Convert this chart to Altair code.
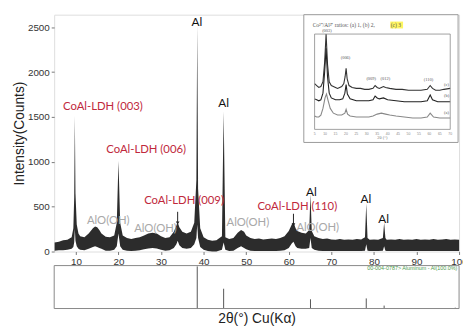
import altair as alt
import pandas as pd

# ---------------- main XRD pattern (noise envelope) ----------------
two_theta = [5, 6, 7, 8, 9, 9.4, 9.6, 9.75, 9.9, 10.2, 10.6, 11, 12, 13, 14, 14.5, 15, 15.5, 16,
             17, 18, 19, 19.6, 20.0, 20.4, 21, 22, 23, 24, 25, 26, 27, 28, 29, 30, 31, 32, 33,
             33.6, 33.9, 34.3, 35, 36, 37, 37.8, 38.3, 38.5, 38.7, 39.2, 40, 41, 42, 43, 44.3,
             44.7, 45.1, 46, 47, 48, 48.8, 49.5, 50, 51, 52, 53, 54, 55, 56, 57, 58, 59, 60,
             60.7, 61.1, 61.6, 62, 63, 64, 64.8, 65.1, 65.4, 66, 67, 68, 69, 70, 71, 72, 73,
             74, 75, 76, 77, 77.9, 78.2, 78.5, 79, 80, 81, 82.1, 82.4, 82.7, 83, 84, 85, 86,
             87, 88, 89, 90, 91, 92, 93, 94, 95, 96, 97, 98, 99, 100]
band_low = [10, 15, 15, 20, 30, 50, 100, 250, 120, 60, 30, 20, 15, 30, 50, 60, 50, 40, 30,
            10, 10, 20, 60, 200, 60, 20, 10, 5, 10, 15, 25, 35, 40, 35, 20, 10, 15, 40,
            80, 120, 70, 40, 30, 40, 80, 150, 300, 150, 50, 20, 5, 0, 0, 20,
            100, 20, 5, 10, 40, 60, 40, 25, 10, 5, 5, 5, 5, 5, 5, 10, 15, 40,
            90, 110, 60, 40, 30, 30, 40, 150, 40, 20, 10, 5, 5, 5, 5, 5, 5,
            5, 5, 5, 5, 10, 80, 10, 5, 5, 5, 10, 60, 10, 5, 5, 5, 5,
            5, 5, 5, 5, 5, 5, 5, 5, 5, 5, 5, 5, 5, 5]
band_high = [100, 110, 125, 130, 160, 260, 600, 1510, 650, 300, 200, 170, 160, 200, 260, 280, 270, 240, 200,
             165, 160, 180, 320, 1010, 320, 180, 150, 140, 150, 160, 180, 200, 210, 200, 170, 150, 160, 220,
             290, 330, 270, 220, 200, 220, 320, 800, 2520, 700, 260, 160, 130, 120, 125, 170,
             1560, 160, 140, 150, 210, 240, 220, 180, 150, 140, 145, 135, 140, 145, 140, 150, 170, 230,
             300, 330, 260, 230, 210, 200, 240, 640, 230, 170, 150, 140, 145, 135, 130, 140, 130,
             135, 130, 140, 135, 160, 535, 150, 130, 135, 130, 150, 320, 150, 130, 135, 130, 140,
             130, 135, 130, 140, 130, 135, 130, 140, 130, 135, 140, 130, 135, 130]

# annotations
ldh_text = ["CoAl-LDH (003)", "CoAl-LDH (006)", "CoAl-LDH (009)", "CoAl-LDH (110)"]
ldh_x = [16.35, 26.5, 35.4, 62.0]
ldh_y = [1614, 1132, 563, 498]

alooh_text = ["AlO(OH)", "AlO(OH)", "AlO(OH)", "AlO(OH)"]
alooh_x = [17.6, 28.7, 50.4, 66.8]
alooh_y = [345, 246, 323, 257]

al_text = ["Al", "Al", "Al", "Al", "Al"]
al_x = [38.4, 44.7, 65.3, 78.1, 82.3]
al_y = [2555, 1660, 662, 585, 366]

arrow_x = [33.9, 61.1]
arrow_top = [443, 421]
arrow_tip = [318, 298]

# reference pattern (PDF 00-004-0787 Aluminum)
ref_pos = [38.5, 44.7, 65.1, 78.2, 82.4, 99.1]
ref_rel = [100, 47, 22, 24, 7, 2]
ref_label = ["00-004-0787> Aluminum - Al(100.0%)"]

# ---------------- inset: Co/Al ratio patterns ----------------
inset_c_x = [5, 6, 7, 8, 9, 9.8, 10.5, 11.2, 12, 13, 14, 15, 16, 17, 18, 19, 19.6, 20.1, 20.6, 21.5,
             23, 25, 27, 29, 31, 33, 34, 35, 36, 37, 38, 39, 41, 44, 47, 50, 53, 56, 59, 60.4,
             61.5, 63, 65, 67, 70]
inset_c_y = [48, 46, 44, 45, 50, 70, 100, 68, 50, 46, 45, 44, 43, 44, 45, 48, 55, 64, 53, 46,
             44, 43, 43, 42, 42, 43, 46, 44, 43, 44, 45, 44, 43, 42, 42, 41, 41, 41, 42, 46,
             43, 41, 41, 42, 43]
inset_b_x = [5, 6, 7, 8, 9, 9.8, 10.5, 11.2, 12, 13, 15, 17, 18.5, 19.5, 20.1, 20.7, 22, 25, 28,
             31, 33, 34, 35, 36, 38, 40, 44, 48, 52, 56, 59, 60.4, 61.5, 64, 67, 70]
inset_b_y = [32, 31, 30, 31, 38, 60, 85, 55, 38, 33, 31, 31, 32, 38, 47, 37, 32, 30, 30,
             30, 31, 35, 33, 32, 33, 31, 30, 29, 29, 29, 30, 36, 31, 29, 29, 29]
inset_a_x = [5, 6, 7, 8, 9, 10, 10.7, 11.5, 12.5, 14, 16, 18, 19.5, 20.1, 20.8, 22, 25, 28, 31,
             33, 35, 37, 39, 41, 44, 48, 52, 56, 59, 60.4, 62, 65, 70]
inset_a_y = [14, 13, 13, 15, 22, 33, 37, 30, 22, 17, 15, 15, 17, 21, 16, 14, 13, 13, 13,
             14, 16, 17, 16, 15, 14, 13, 12, 12, 13, 17, 13, 12, 12]

inset_peak_text = ["(003)", "(006)", "(009)", "(012)", "(110)"]
inset_peak_x = [10.9, 19.8, 32.1, 38.9, 59.6]
inset_peak_y = [101, 73, 51, 51, 50]

inset_series_text = ["(c)", "(b)", "(a)"]
inset_series_x = [67.0, 67.0, 67.0]
inset_series_y = [47, 35, 17]

inset_ticks = [5, 10, 15, 20, 25, 30, 35, 40, 45, 50, 55, 60, 65, 70]

# ---------------- geometry ----------------
W, H = 412, 241
XDOM = [4.9, 100]
YDOM = [0, 2640]

xs = alt.Scale(domain=XDOM, nice=False, zero=False)
ys = alt.Scale(domain=YDOM, nice=False, zero=False)

FONT = "Liberation Sans"
ANN = "Lato"

xaxis = alt.Axis(values=list(range(10, 101, 10)), title="2θ(°) Cu(Kα)", grid=False, domain=False,
                 format="d", labelFont=FONT, labelFontSize=10, labelColor="#333", labelFlush=False,
                 labelOverlap=False, labelPadding=2, tickSize=3, tickColor="#777",
                 titleFont=FONT, titleFontSize=14, titleFontWeight="normal", titleColor="#222",
                 titlePadding=46)
yaxis = alt.Axis(values=list(range(0, 2501, 500)), title="Intensity(Counts)", grid=False,
                 format="d", domain=False, labelFont=FONT, labelFontSize=10, labelColor="#333",
                 labelPadding=2, tickSize=3, tickColor="#777", titleFont=FONT, titleFontSize=14,
                 titleFontWeight="normal", titleColor="#222", titlePadding=1)

main_df = pd.DataFrame({"tt": two_theta, "lo": band_low, "hi": band_high})

band = alt.Chart(main_df).mark_area(color="#1a1a1a", opacity=0.92, interpolate="linear").encode(
    x=alt.X("tt:Q", scale=xs, axis=xaxis),
    y=alt.Y("lo:Q", scale=ys, axis=yaxis),
    y2="hi:Q",
)

ldh_df = pd.DataFrame({"x": ldh_x, "y": ldh_y, "t": ldh_text})
ldh = alt.Chart(ldh_df).mark_text(font=ANN, fontSize=11.5, color="#c0283c").encode(
    x="x:Q", y="y:Q", text="t:N")

alooh_df = pd.DataFrame({"x": alooh_x, "y": alooh_y, "t": alooh_text})
alooh = alt.Chart(alooh_df).mark_text(font=ANN, fontSize=11.5, color="#a8a8a8").encode(
    x="x:Q", y="y:Q", text="t:N")

al_df = pd.DataFrame({"x": al_x, "y": al_y, "t": al_text})
al = alt.Chart(al_df).mark_text(font=ANN, fontSize=12, color="#111").encode(
    x="x:Q", y="y:Q", text="t:N")

arr_df = pd.DataFrame({"x": arrow_x, "top": arrow_top, "tip": arrow_tip})
arr_line = alt.Chart(arr_df).mark_rule(color="#222", strokeWidth=1).encode(
    x="x:Q", y="top:Q", y2="tip:Q")
arr_head = alt.Chart(arr_df).mark_point(shape="triangle-down", filled=True, color="#222",
                                        size=14, opacity=1).encode(x="x:Q", y="tip:Q")

main = alt.layer(band, ldh, alooh, al, arr_line, arr_head)

# ---------------- bottom reference panel ----------------
bys = alt.Scale(domain=[0, 102], range=[299, 255.3], nice=False, zero=False)
bxs = alt.Scale(domain=XDOM, nice=False, zero=False)
ref_df = pd.DataFrame({"x": ref_pos, "r": ref_rel, "z": [0] * len(ref_pos)})
ref_rules = alt.Chart(ref_df).mark_rule(color="#555", strokeWidth=1).encode(
    x=alt.X("x:Q", scale=bxs, axis=None),
    y=alt.Y("r:Q", scale=bys, axis=None),
    y2="z:Q",
)
frame_df = pd.DataFrame({"x0": [XDOM[0]], "x1": [XDOM[1]], "y0": [0], "y1": [102]})
ref_frame = alt.Chart(frame_df).mark_rect(filled=False, stroke="#888", strokeWidth=1).encode(
    x="x0:Q", x2="x1:Q", y="y0:Q", y2="y1:Q")
lab_df = pd.DataFrame({"x": [99.6], "y": [95], "t": ref_label})
ref_lab = alt.Chart(lab_df).mark_text(font=FONT, fontSize=5.5, color="#4c9a4c", align="right").encode(
    x="x:Q", y="y:Q", text="t:N")
bottom = alt.layer(ref_rules, ref_frame, ref_lab)

# ---------------- inset ----------------
one = pd.DataFrame({"k": [0]})
inset_box = alt.Chart(one).mark_rect(fill="white", stroke="#999", strokeWidth=1).encode(
    x=alt.value(254), x2=alt.value(411), y=alt.value(0), y2=alt.value(130))
hl = alt.Chart(one).mark_rect(fill="#fff23a", opacity=0.8).encode(
    x=alt.value(342), x2=alt.value(355), y=alt.value(7), y2=alt.value(14))
ititle1 = alt.Chart(pd.DataFrame({"t": ["Co²⁺/Al³⁺ ratios: (a) 1, (b) 2, "]})).mark_text(
    font="Liberation Serif", fontSize=5.6, color="#555", align="left", baseline="middle").encode(
    x=alt.value(263), y=alt.value(10.7), text="t:N")
ititle2 = alt.Chart(pd.DataFrame({"t": ["(c) 3"]})).mark_text(
    font="Liberation Serif", fontSize=5.6, color="#555", align="left", baseline="middle").encode(
    x=alt.value(342.5), y=alt.value(10.7), text="t:N")

ixs = alt.Scale(domain=[5, 70], range=[265, 403], nice=False, zero=False)
iys = alt.Scale(domain=[0, 100], range=[116.7, 19.7], nice=False, zero=False)

inset_df = pd.concat([
    pd.DataFrame({"x": inset_c_x, "y": inset_c_y, "s": "c"}),
    pd.DataFrame({"x": inset_b_x, "y": inset_b_y, "s": "b"}),
    pd.DataFrame({"x": inset_a_x, "y": inset_a_y, "s": "a"}),
])
icurves = alt.Chart(inset_df).mark_line(strokeWidth=1.1).encode(
    x=alt.X("x:Q", scale=ixs, axis=None),
    y=alt.Y("y:Q", scale=iys, axis=None),
    color=alt.Color("s:N", scale=alt.Scale(domain=["c", "b", "a"], range=["#333", "#222", "#888"]),
                    legend=None),
)
iframe_df = pd.DataFrame({"x0": [5], "x1": [70], "y0": [0], "y1": [100]})
iframe = alt.Chart(iframe_df).mark_rect(filled=False, stroke="#888", strokeWidth=0.8).encode(
    x="x0:Q", x2="x1:Q", y="y0:Q", y2="y1:Q")
ipk_df = pd.DataFrame({"x": inset_peak_x, "y": inset_peak_y, "t": inset_peak_text})
ipk = alt.Chart(ipk_df).mark_text(font="Liberation Serif", fontSize=4.5, color="#555",
                                  baseline="bottom").encode(x="x:Q", y="y:Q", text="t:N")
iser_df = pd.DataFrame({"x": inset_series_x, "y": inset_series_y, "t": inset_series_text})
iser = alt.Chart(iser_df).mark_text(font="Liberation Serif", fontSize=4.5, color="#555",
                                    align="left").encode(x="x:Q", y="y:Q", text="t:N")
itk_df = pd.DataFrame({"x": inset_ticks, "t": [str(v) for v in inset_ticks]})
itk = alt.Chart(itk_df).mark_text(font="Liberation Sans", fontSize=3.5, color="#888").encode(
    x="x:Q", y=alt.value(121), text="t:N")
ixt = alt.Chart(pd.DataFrame({"x": [37.5], "t": ["2θ (°)"]})).mark_text(
    font="Liberation Serif", fontSize=4.5, color="#777").encode(x="x:Q", y=alt.value(125), text="t:N")

inset = alt.layer(inset_box, hl, ititle1, ititle2, icurves, iframe, ipk, iser, itk, ixt)

chart = alt.layer(main, bottom, inset).resolve_scale(
    x="independent", y="independent", color="independent"
).properties(
    width=W, height=H,
    autosize=alt.AutoSizeParams(type="none"),
    padding={"left": 47, "top": 4, "right": 4, "bottom": 75},
).configure_view(stroke="#999", strokeWidth=1).configure(background="white")

chart.save("out.html", embed_options={"renderer": "svg", "actions": False})
